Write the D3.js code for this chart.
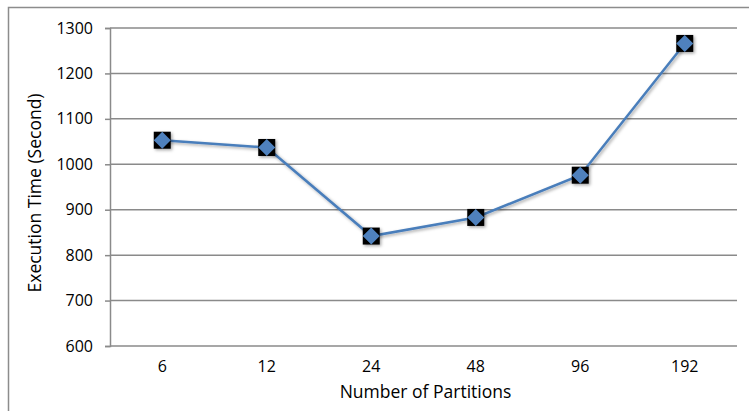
<!DOCTYPE html>
<html>
<head>
<meta charset="utf-8">
<script src="https://cdn.jsdelivr.net/npm/d3@7"></script>
<style>
  html, body { margin: 0; padding: 0; background: #fff; }
  svg { display: block; font-family: "Open Sans", sans-serif; }
</style>
</head>
<body>
<svg id="chart" width="749" height="411"></svg>
<script>
// Execution time for each partition count
const partitions = ["6", "12", "24", "48", "96", "192"];
const execTime = [1053, 1037, 842, 883, 976, 1266];
const yTicks = [600, 700, 800, 900, 1000, 1100, 1200, 1300];

const svg = d3.select("#chart");
const W = 749, H = 411;
const m = { left: 110, right: 12, top: 28, bottom: 65 };
const font = "'Open Sans', sans-serif";

// outer chart frame
svg.append("rect")
  .attr("x", 8.5).attr("y", 7.5)
  .attr("width", W + 10).attr("height", H + 10)
  .attr("fill", "#fff").attr("stroke", "#8c8c8c").attr("stroke-width", 1.5);

const x = d3.scaleBand().domain(partitions).range([m.left, W - m.right]);
const y = d3.scaleLinear().domain([600, 1300]).range([H - m.bottom, m.top]);

const defs = svg.append("defs");
const f = defs.append("filter").attr("id", "shadow").attr("x", "-50%").attr("y", "-50%").attr("width", "200%").attr("height", "200%");
f.append("feDropShadow").attr("dx", 1.5).attr("dy", 1.5).attr("stdDeviation", 1.8).attr("flood-color", "#000").attr("flood-opacity", 0.35);

// horizontal gridlines
svg.append("g").selectAll("line").data(yTicks).join("line")
  .attr("x1", m.left).attr("x2", W - m.right)
  .attr("y1", d => y(d)).attr("y2", d => y(d))
  .attr("stroke", "#8a8a8a").attr("stroke-width", 1.5);

// y axis
const yAxis = svg.append("g").attr("transform", `translate(${m.left},0)`)
  .call(d3.axisLeft(y).tickValues(yTicks).tickSize(5).tickPadding(12).tickFormat(d3.format("d")));
yAxis.select(".domain").attr("stroke", "#8a8a8a").attr("stroke-width", 1.5);
yAxis.selectAll(".tick line").attr("stroke", "#8a8a8a").attr("stroke-width", 1.5);
yAxis.selectAll(".tick text").attr("font-size", 16).attr("fill", "#000").attr("font-family", font);

// x axis labels
const xAxis = svg.append("g").attr("transform", `translate(0,${H - m.bottom})`)
  .call(d3.axisBottom(x).tickSize(0).tickPadding(15));
xAxis.select(".domain").remove();
xAxis.selectAll(".tick text").attr("font-size", 16).attr("fill", "#000").attr("font-family", font);

// axis titles
svg.append("text")
  .attr("x", 425.5).attr("y", 398)
  .attr("text-anchor", "middle").attr("font-size", 17.5).attr("font-family", font).text("Number of Partitions");
svg.append("text")
  .attr("transform", `translate(41,193) rotate(-90)`)
  .attr("text-anchor", "middle").attr("font-size", 17.5).attr("font-family", font).text("Execution Time (Second)");

// series line
const pts = partitions.map((p, i) => [x(p) + x.bandwidth() / 2, y(execTime[i])]);
svg.append("path")
  .attr("d", d3.line()(pts))
  .attr("fill", "none").attr("stroke", "#4a7ebb").attr("stroke-width", 2.5)
  .attr("filter", "url(#shadow)");

// markers: black square with blue diamond
const mk = svg.append("g").selectAll("g").data(pts).join("g")
  .attr("transform", d => `translate(${d[0]},${d[1]})`)
  .attr("filter", "url(#shadow)");
mk.append("rect").attr("x", -8.5).attr("y", -8.5).attr("width", 17).attr("height", 17).attr("fill", "#000");
mk.append("path").attr("d", "M0,-8.5L8.5,0L0,8.5L-8.5,0Z").attr("fill", "#4f81bd");
</script>
</body>
</html>
